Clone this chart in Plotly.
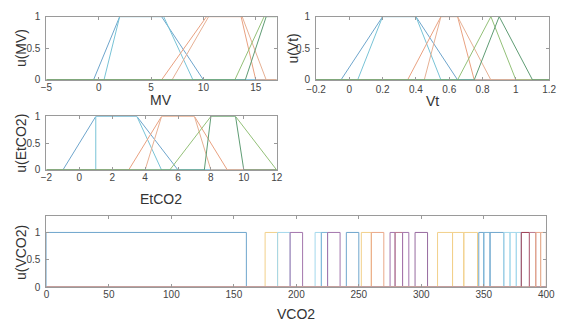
import plotly.graph_objects as go

# ---------------- data (membership function parameters) -------------
mv_range = [-5, 17]
mv_ticks = [-5, 0, 5, 10, 15]
mv_mfs = [[-0.5, 2, 6, 10], [0.5, 2, 6.2, 9],
          [6, 10.3, 13.6, 15], [7, 10.5, 13.7, 16],
          [13, 15.8, 20, 21], [14, 16, 20, 21]]

vt_range = [-0.2, 1.2]
vt_ticks = [-0.2, 0, 0.2, 0.4, 0.6, 0.8, 1, 1.2]
vt_mfs = [[-0.05, 0.2, 0.4, 0.65], [0.05, 0.2, 0.4, 0.55],
          [0.35, 0.55, 0.65, 0.75], [0.45, 0.55, 0.65, 0.85],
          [0.65, 0.85, 0.85, 1.0], [0.75, 0.9, 0.9, 1.1]]

et_range = [-2, 12]
et_ticks = [-2, 0, 2, 4, 6, 8, 10, 12]
et_mfs = [[-1, 1, 3.5, 6], [1, 1, 3.5, 5],
          [3, 5, 7, 9], [4, 5, 7, 8],
          [5.5, 8, 9.5, 12], [7.6, 8, 9.5, 10]]

trap_colors = ["#6ea5cc", "#78c3d6", "#e9a180", "#e6b094", "#93c078", "#5f9c74"]

vco2_range = [0, 400]
vco2_ticks = [0, 50, 100, 150, 200, 250, 300, 350, 400]
vco2_starts = [0, 175, 185, 195, 215, 220, 225, 240, 252, 260, 275, 279, 285,
               295, 313, 325, 334, 346, 350, 355, 366, 371, 376, 380, 386.5, 391.6, 395.5]
vco2_ends = [160, 185, 195, 205, 220, 225, 235, 250, 260, 270, 279, 285, 290,
             305, 325, 334, 345, 350, 355, 366, 371, 376, 380, 386.5, 391.6, 395.5, 400]
vco2_colors = ["#6ea5cc", "#f2d08a", "#a3d8ec", "#a375ad", "#a3d8ec", "#7ab4d6", "#a375ad",
               "#6ea5cc", "#f2d08a", "#eaa888", "#a375ad", "#b9788c", "#a375ad",
               "#976a9f", "#f2d08a", "#f2d08a", "#f2d08a", "#6ea5cc", "#7ab4d6", "#6ea5cc",
               "#a3d8ec", "#a3d8ec", "#a3d8ec", "#9c3a50", "#b9788c", "#eaa888", "#e6b094"]

# ---------------- figure -------------
fig = go.Figure()

def trapmf(x, p):
    a, b, c, d = p
    if x < a or x > d:
        return 0.0
    if b <= x <= c:
        return 1.0
    if x < b:
        return (x - a) / (b - a) if b > a else 1.0
    return (d - x) / (d - c) if d > c else 1.0

def trap_xy(p, rng):
    pts = sorted(set([rng[0], rng[1]] + [v for v in p if rng[0] <= v <= rng[1]]))
    xs, ys = [], []
    for v in pts:
        if v == p[0] and p[1] == p[0] and rng[0] <= v:
            xs += [v, v]; ys += [0.0, 1.0]
        elif v == p[3] and p[2] == p[3]:
            xs += [v, v]; ys += [1.0, 0.0]
        else:
            xs.append(v); ys.append(trapmf(v, p))
    return xs, ys

panels = [("x", "y", mv_range, mv_mfs), ("x2", "y2", vt_range, vt_mfs), ("x3", "y3", et_range, et_mfs)]
for xa, ya, rng, mfs in panels:
    for p, col in zip(mfs, trap_colors):
        xs, ys = trap_xy(p, rng)
        fig.add_trace(go.Scatter(x=xs, y=ys, mode="lines", xaxis=xa, yaxis=ya,
                                 line=dict(color=col, width=1), showlegend=False, hoverinfo="skip"))

for s, e, col in zip(vco2_starts, vco2_ends, vco2_colors):
    xs = [vco2_range[0], s, s, e, e, vco2_range[1]]
    ys = [0, 0, 1, 1, 0, 0]
    fig.add_trace(go.Scatter(x=xs, y=ys, mode="lines", xaxis="x4", yaxis="y4",
                             line=dict(color=col, width=1), showlegend=False, hoverinfo="skip"))

FONT = "Liberation Sans, Arial, sans-serif"
axcol = "#9a9a9a"
common = dict(showgrid=False, zeroline=False, showline=True, linecolor=axcol, linewidth=1,
              mirror="ticks", ticks="inside", ticklen=3, tickcolor=axcol,
              tickfont=dict(family=FONT, size=10, color="#444"))
xcommon = dict(ticklabelstandoff=-2, **common)
x2common = dict(ticklabelstandoff=0, **common)
ycommon = dict(ticklabelstandoff=3, **common)

W, H = 563, 329
def px(x):
    return x / W
def py(y):
    return 1 - y / H

fig.update_layout(
    width=W, height=H, margin=dict(l=0, r=0, t=0, b=0),
    paper_bgcolor="white", plot_bgcolor="white",
    xaxis=dict(domain=[px(37.7), px(276)], range=mv_range, tickvals=mv_ticks, anchor="y", **xcommon),
    yaxis=dict(domain=[py(77.5), py(12)], range=[0, 1], tickvals=[0, 0.5, 1], anchor="x", **ycommon),
    xaxis2=dict(domain=[px(316.7), px(558)], range=vt_range, tickvals=vt_ticks, anchor="y2", **x2common),
    yaxis2=dict(domain=[py(77.5), py(12)], range=[0, 1], tickvals=[0, 0.5, 1], anchor="x2", **ycommon),
    xaxis3=dict(domain=[px(37.7), px(276)], range=et_range, tickvals=et_ticks, anchor="y3", **xcommon),
    yaxis3=dict(domain=[py(170.7), py(115.3)], range=[0, 1], tickvals=[0, 0.5, 1], anchor="x3", **ycommon),
    xaxis4=dict(domain=[px(37.7), px(555)], range=vco2_range, tickvals=vco2_ticks, anchor="y4", **xcommon),
    yaxis4=dict(domain=[py(292), py(218.3)], range=[0, 1.3], tickvals=[0, 0.5, 1], anchor="x4", **ycommon),
)

tfont = dict(family=FONT, size=14, color="#333")
titles = [
    ("MV", px(156), py(98), 0),
    ("Vt", px(437), py(99), 0),
    ("EtCO2", px(156), py(201), 0),
    ("VCO2", px(296), py(320), 0),
    ("u(MV)", px(12), py(45), -90),
    ("u(Vt)", px(293), py(45), -90),
    ("u(EtCO2)", px(12), py(143), -90),
    ("u(VCO2)", px(12), py(256), -90),
]
for txt, x, y, ang in titles:
    fig.add_annotation(text=txt, x=x, y=y, xref="paper", yref="paper", showarrow=False,
                       xanchor="center", yanchor="middle", textangle=ang, font=tfont)

fig.write_html("out.html")
